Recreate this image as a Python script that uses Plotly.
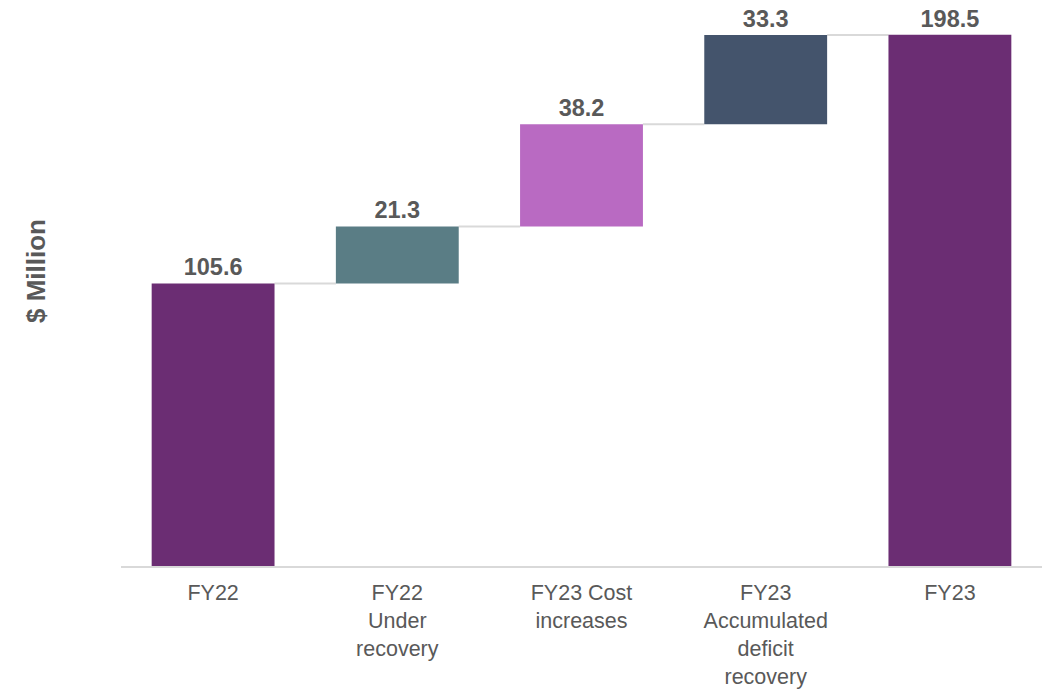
import plotly.graph_objects as go

categories = ["FY22", "FY22<br>Under<br>recovery", "FY23 Cost<br>increases",
              "FY23<br>Accumulated<br>deficit<br>recovery", "FY23"]
values = [105.6, 21.3, 38.2, 33.3, 198.5]
kinds = ["total", "relative", "relative", "relative", "total"]
colors = ["#6B2D73", "#5A7D85", "#B96AC2", "#44546C", "#6B2D73"]
labels = ["105.6", "21.3", "38.2", "33.3", "198.5"]

# compute bases and tops
bases, tops = [], []
running = 0.0
for v, k in zip(values, kinds):
    if k == "total":
        b = 0.0
        running = v
    else:
        b = running
        running = running + v
    bases.append(b)
    tops.append(b + v)

bar_w = 0.667
txt_color = "#595959"
font_family = "Liberation Sans, Arial, sans-serif"

fig = go.Figure()
fig.add_trace(go.Bar(
    x=categories, y=values, base=bases,
    marker=dict(color=colors, line=dict(width=0)),
    width=bar_w,
    text=labels, textposition="outside", cliponaxis=False,
    textfont=dict(family=font_family, size=23.5, color=txt_color, weight="bold"),
    hoverinfo="skip",
))

shapes = []
for i in range(len(values) - 1):
    level = tops[i]
    shapes.append(dict(type="line", xref="x", yref="y",
                       x0=i + bar_w / 2, x1=i + 1 - bar_w / 2, y0=level, y1=level,
                       line=dict(color="#D9D9D9", width=2), layer="below"))

ymax = 210
fig.update_layout(
    width=1042, height=693,
    margin=dict(l=121, r=0, t=4, b=127, autoexpand=False),
    paper_bgcolor="white", plot_bgcolor="white",
    showlegend=False,
    shapes=shapes,
    font=dict(family=font_family, color=txt_color),
    xaxis=dict(showline=True, linecolor="#D9D9D9", linewidth=2,
               showgrid=False, ticks="", tickfont=dict(size=21.5, color=txt_color),
               ticklabelstandoff=6, automargin=False, fixedrange=True),
    yaxis=dict(range=[0, ymax], visible=False, automargin=False, fixedrange=True),
    annotations=[dict(text="$ Million", xref="paper", yref="paper",
                      x=(36 - 121) / 921, y=(566 - 271) / 562,
                      xanchor="center", yanchor="middle", textangle=-90,
                      showarrow=False,
                      font=dict(family=font_family, size=26, color=txt_color, weight="bold"))],
)

fig.write_html("out.html")
